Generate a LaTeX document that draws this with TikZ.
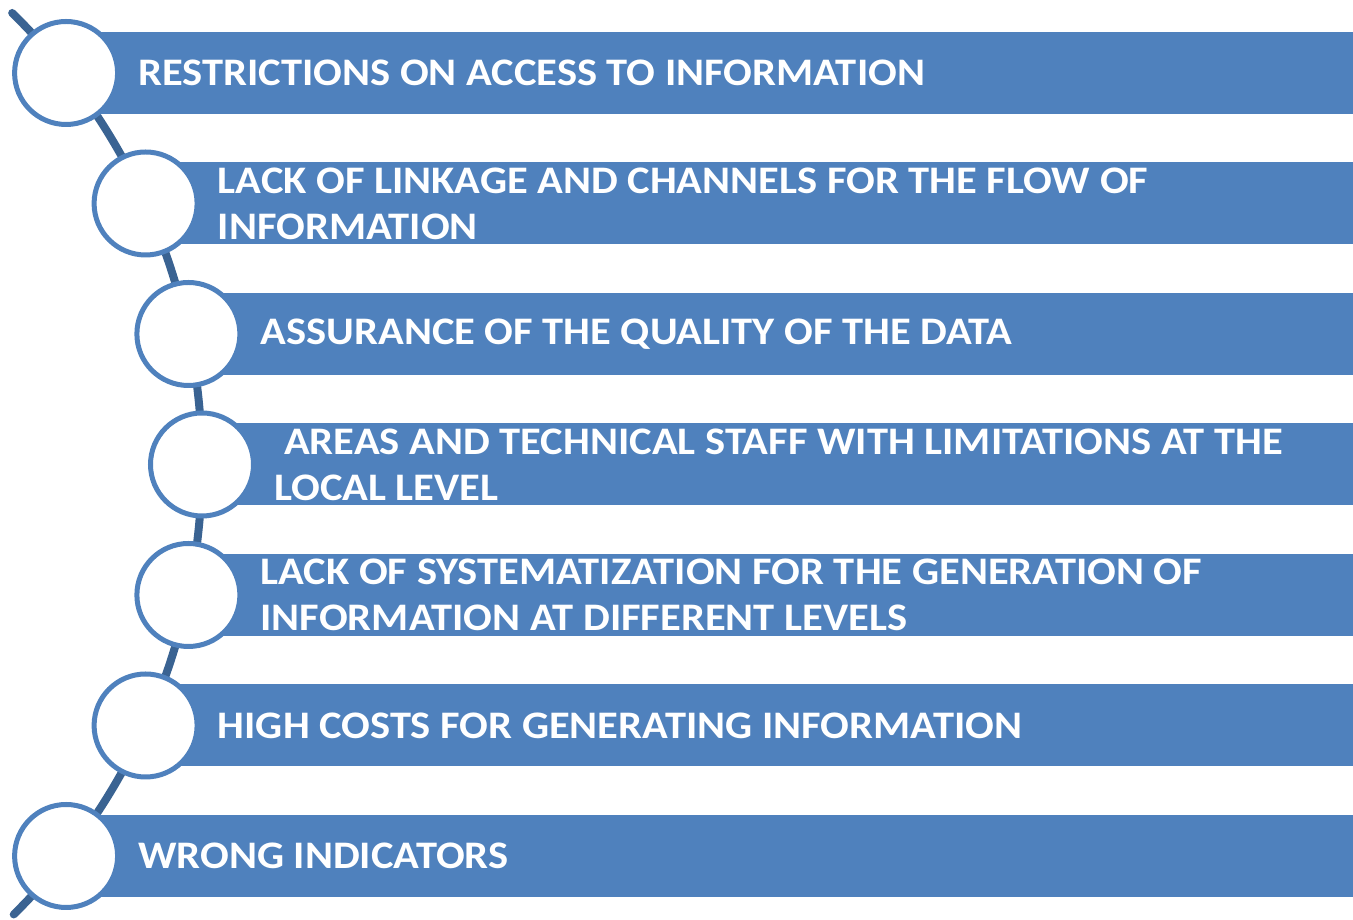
\documentclass[tikz,border=0pt]{standalone}
\usepackage{fontspec}
\setmainfont{Carlito}[FakeStretch=1.09]
\usetikzlibrary{calc}
\definecolor{barblue}{HTML}{4F81BD}
\definecolor{arcblue}{HTML}{3A6392}
\begin{document}
\begin{tikzpicture}[x=1pt,y=1pt,
  bar/.style={fill=barblue, draw=none, inner sep=0pt},
  ring/.style={circle, draw=barblue, fill=white, line width=5pt, minimum size=103pt, inner sep=0pt},
  label/.style={anchor=west, text=white, inner sep=0pt, align=left,
     font=\fontsize{39}{46}\selectfont\bfseries},
  spine/.style={draw=arcblue, line width=8pt, line cap=round}]
\useasboundingbox (0,0) rectangle (1353,920);
% spine arc
\coordinate (C) at (-430,455.5);
\draw[spine] ($(C)+(45.6:632)$) coordinate (top) arc[start angle=45.6, end angle=-45.4, radius=632] coordinate (bot);
% items: circle centres
\foreach \n/\cx/\cy in {1/66.1/847, 2/145.6/716.5, 3/188.4/586, 4/202/455.5, 5/188.4/325, 6/145.6/194.5, 7/66.1/64}{
  \coordinate (p\n) at (\cx,\cy);
  \path[bar] (\cx,\cy-41) rectangle (1353,\cy+41);
  \node[ring] (c\n) at (p\n) {};
}
\node[label] (t1) at ($(p1)+(72,0)$) {RESTRICTIONS ON ACCESS TO INFORMATION};
\node[label] (t2) at ($(p2)+(72,0)$) {LACK OF LINKAGE AND CHANNELS FOR THE FLOW OF\\INFORMATION};
\node[label] (t3) at ($(p3)+(72,0)$) {ASSURANCE OF THE QUALITY OF THE DATA};
\node[label] (t4) at ($(p4)+(72,0)$) {\hspace*{10pt}AREAS AND TECHNICAL STAFF WITH LIMITATIONS AT THE\\LOCAL LEVEL};
\node[label] (t5) at ($(p5)+(72,0)$) {LACK OF SYSTEMATIZATION FOR THE GENERATION OF\\INFORMATION AT DIFFERENT LEVELS};
\node[label] (t6) at ($(p6)+(72,0)$) {HIGH COSTS FOR GENERATING INFORMATION};
\node[label] (t7) at ($(p7)+(72,0)$) {WRONG INDICATORS};
\end{tikzpicture}
\end{document}
